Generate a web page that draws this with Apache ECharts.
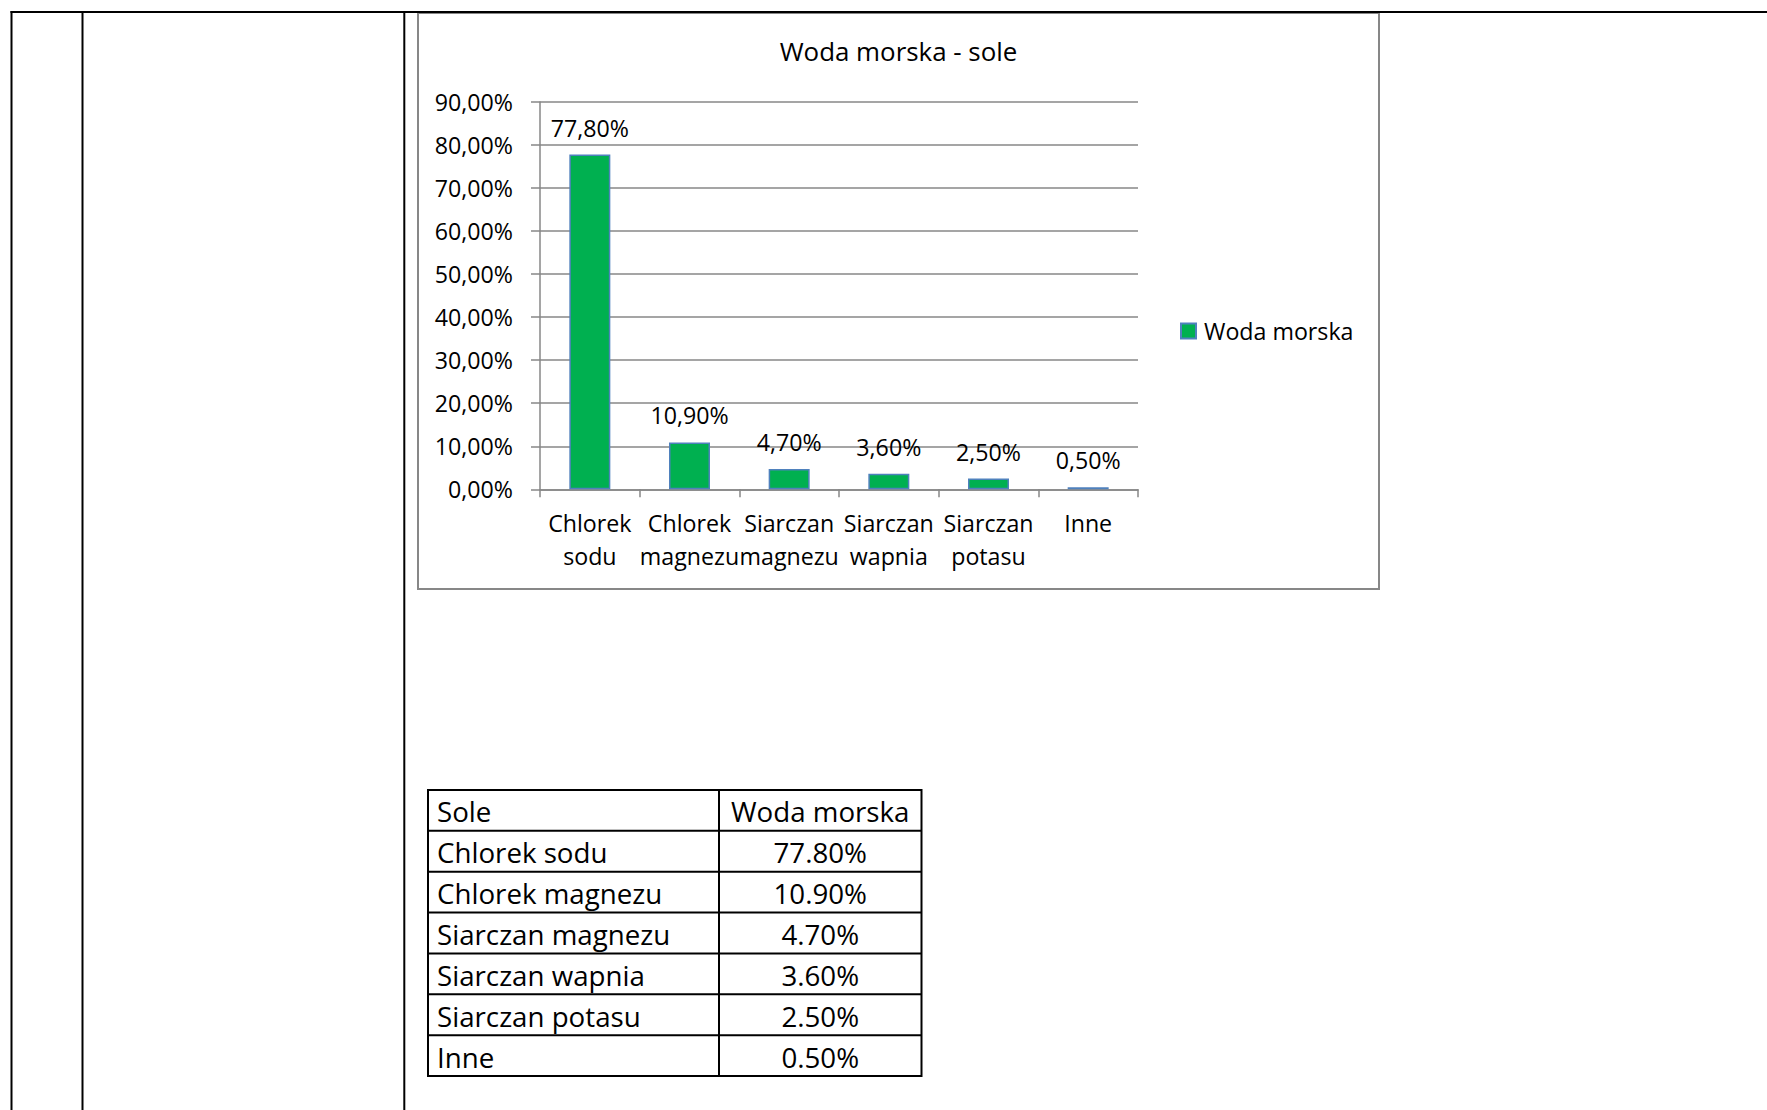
<!DOCTYPE html>
<html>
<head>
<meta charset="utf-8">
<script src="https://cdn.jsdelivr.net/npm/echarts@6/dist/echarts.min.js"></script>
<style>
html,body{margin:0;padding:0;background:#fff;}
#c{width:1767px;height:1110px;}
</style>
</head>
<body>
<div id="c"></div>
<script>
// ---- data ----
const chartTitle = 'Woda morska - sole';
const seriesName = 'Woda morska';
const categories = ['Chlorek\nsodu', 'Chlorek\nmagnezu', 'Siarczan\nmagnezu', 'Siarczan\nwapnia', 'Siarczan\npotasu', 'Inne'];
const tableNames = ['Chlorek sodu', 'Chlorek magnezu', 'Siarczan magnezu', 'Siarczan wapnia', 'Siarczan potasu', 'Inne'];
const values = [77.8, 10.9, 4.7, 3.6, 2.5, 0.5];
const tableHeader = ['Sole', 'Woda morska'];
const yMax = 90;
const yInterval = 10;

// ---- helpers ----
const FONT = '"Open Sans", "Noto Sans", sans-serif';
const FS = 23.2;
const fmtComma = v => v.toFixed(2).replace('.', ',') + '%';
const fmtDot = v => v.toFixed(2) + '%';

// ---- page frame & table (graphic) ----
const graphics = [];
const black = '#000';
graphics.push({type:'line', shape:{x1:10.5, y1:12, x2:1767, y2:12}, style:{stroke:black, lineWidth:2}, silent:true});
[11.5, 82.5, 404.3].forEach(x => graphics.push({type:'line', shape:{x1:x, y1:11, x2:x, y2:1110}, style:{stroke:black, lineWidth:2}, silent:true}));
graphics.push({type:'rect', shape:{x:418, y:13, width:961, height:576}, style:{fill:'none', stroke:'#878787', lineWidth:2}, silent:true, z:-1});

// table
const tX0 = 428, tX1 = 719, tX2 = 921.5, tY0 = 790, rowH = 40.86;
const rows = [tableHeader].concat(tableNames.map((n, i) => [n, fmtDot(values[i])]));
const tY1 = tY0 + rowH * rows.length;
graphics.push({type:'rect', shape:{x:tX0, y:tY0, width:tX2 - tX0, height:tY1 - tY0}, style:{fill:'none', stroke:black, lineWidth:2}, silent:true});
graphics.push({type:'line', shape:{x1:tX1, y1:tY0, x2:tX1, y2:tY1}, style:{stroke:black, lineWidth:2}, silent:true});
for (let r = 1; r < rows.length; r++) {
  const y = tY0 + rowH * r;
  graphics.push({type:'line', shape:{x1:tX0, y1:y, x2:tX2, y2:y}, style:{stroke:black, lineWidth:2}, silent:true});
}
rows.forEach((row, r) => {
  const cy = tY0 + rowH * r + rowH / 2 + 1;
  graphics.push({type:'text', x:tX0 + 9, y:cy, style:{text:row[0], fill:black, font:'27.7px ' + FONT, textAlign:'left', textVerticalAlign:'middle'}, silent:true});
  graphics.push({type:'text', x:(tX1 + tX2) / 2, y:cy, style:{text:row[1], fill:black, font:'27.7px ' + FONT, textAlign:'center', textVerticalAlign:'middle'}, silent:true});
});

const chart = echarts.init(document.getElementById('c'), null, {renderer:'svg'});
chart.setOption({
  animation:false,
  backgroundColor:'#fff',
  textStyle:{fontFamily:FONT, color:'#000'},
  title:{
    text:chartTitle, left:898.5, top:38, textAlign:'center', padding:0,
    textStyle:{fontFamily:FONT, fontSize:25.9, fontWeight:'normal', color:'#000'}
  },
  legend:{
    left:1180, top:319.5, padding:0, icon:'rect', itemWidth:15, itemHeight:15,
    textStyle:{fontFamily:FONT, fontSize:FS, color:'#000', padding:[0,0,0,3]},
    data:[seriesName]
  },
  grid:{left:540, top:102, width:598, height:387.3, containLabel:false},
  xAxis:{
    type:'category', data:categories, boundaryGap:true,
    axisLine:{show:true, lineStyle:{color:'#878787', width:1.5}},
    axisTick:{show:true, alignWithLabel:false, length:8, lineStyle:{color:'#878787', width:1.5}},
    axisLabel:{interval:0, margin:17, fontFamily:FONT, fontSize:FS, color:'#000', lineHeight:33}
  },
  yAxis:{
    type:'value', min:0, max:yMax, interval:yInterval,
    axisLine:{show:true, lineStyle:{color:'#878787', width:1.5}},
    axisTick:{show:true, length:9, lineStyle:{color:'#878787', width:1.5}},
    splitLine:{show:true, lineStyle:{color:'#878787', width:1.5}},
    axisLabel:{margin:27, fontFamily:FONT, fontSize:FS, color:'#000', formatter:v => fmtComma(v)}
  },
  series:[{
    name:seriesName, type:'bar', data:values, barWidth:41,
    itemStyle:{color:'#00B050', borderColor:'#4F81BD', borderWidth:1.5},
    label:{show:true, position:'top', distance:15.5, fontFamily:FONT, fontSize:FS, color:'#000',
      formatter:p => fmtComma(p.value)}
  }],
  graphic:graphics
});
</script>
</body>
</html>
